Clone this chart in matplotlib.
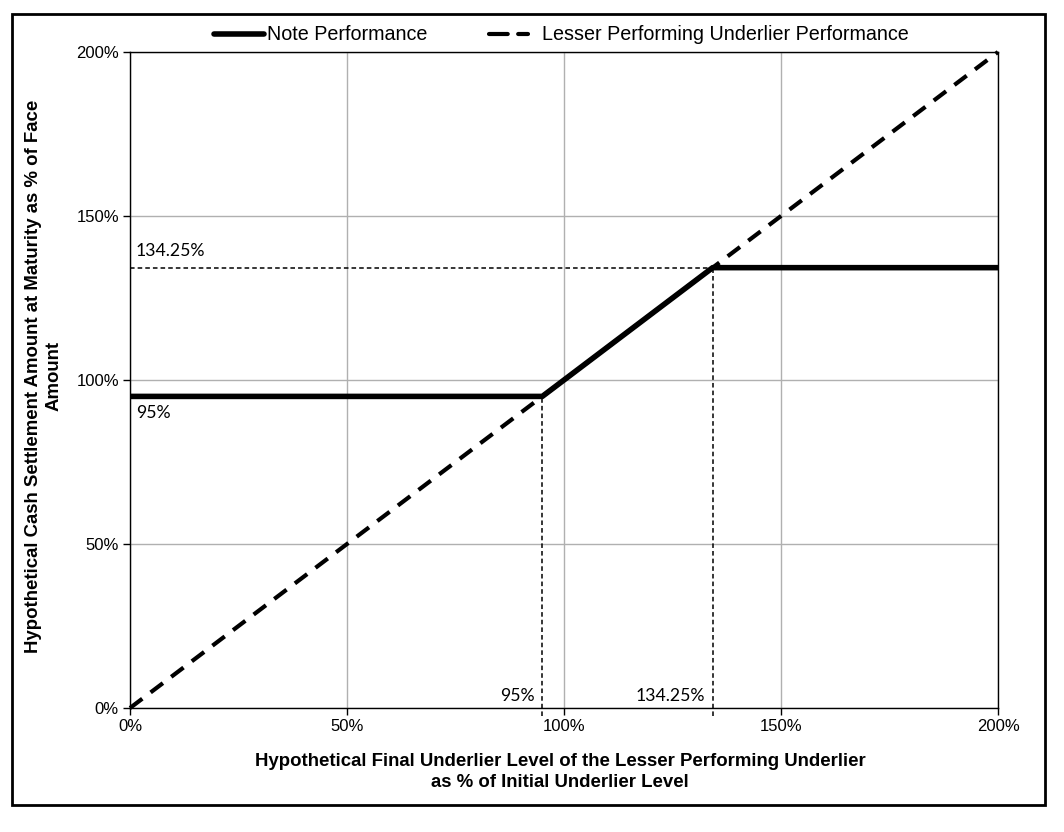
import matplotlib
matplotlib.use("Agg")
import matplotlib.pyplot as plt
from matplotlib.patches import Rectangle
from matplotlib.lines import Line2D
from matplotlib.ticker import FuncFormatter

# Data
note_x = [0, 95, 134.25, 200]
note_y = [95, 95, 134.25, 134.25]
under_x = [0, 200]
under_y = [0, 200]
floor_level = 95
cap_level = 134.25
ticks = [0, 50, 100, 150, 200]
note_label = 'Note Performance'
under_label = 'Lesser Performing Underlier Performance'

plt.rcParams['font.family'] = ['Liberation Sans', 'DejaVu Sans']

W, H = 1064, 832
fig = plt.figure(figsize=(W/100, H/100), dpi=100)
ax = fig.add_axes([130/W, 1-708/H, (998-130)/W, (708-52)/H])

def fx(px):
    return px / W

def fy(py):
    return 1 - py / H

# Outer border
fig.patches.append(Rectangle((fx(12), fy(805)), (1045-12)/W, (805-14)/H,
                             transform=fig.transFigure, fill=False,
                             edgecolor='black', linewidth=2))

ax.set_xlim(0, 200)
ax.set_ylim(0, 200)
ax.set_xticks(ticks)
ax.set_yticks(ticks)
fmt = FuncFormatter(lambda v, p: f"{v:.0f}%")
ax.xaxis.set_major_formatter(fmt)
ax.yaxis.set_major_formatter(fmt)
ax.grid(True, color='#b0b0b0', linewidth=1)
ax.set_axisbelow(True)
ax.tick_params(direction='out', length=5, width=1, labelsize=12, pad=3, colors='black')
for s in ax.spines.values():
    s.set_linewidth(1)
    s.set_color('black')

# Reference lines
ax.plot([0, cap_level], [cap_level, cap_level], color='black', lw=1.1,
        dashes=(3, 2), zorder=3)
ax.plot([floor_level, floor_level], [-2.5, floor_level], color='black', lw=1.1,
        dashes=(3, 2), clip_on=False, zorder=3)
ax.plot([cap_level, cap_level], [-2.5, cap_level], color='black', lw=1.1,
        dashes=(3, 2), clip_on=False, zorder=3)

ax.plot(under_x, under_y, color='black', lw=3, dashes=(3.7, 2.5),
        zorder=4, clip_on=False)
ax.plot(note_x, note_y, color='black', lw=4, solid_capstyle='butt', zorder=5)

# Annotations
afont = dict(family=['Lato', 'DejaVu Sans'], fontsize=12.7, color='black')
ax.text(1.3, cap_level + 2.5, f"{cap_level:g}%", ha='left', va='bottom', **afont)
ax.text(1.3, floor_level - 2.5, f"{floor_level:g}%", ha='left', va='top', **afont)
ax.text(floor_level - 1.8, 1.3, f"{floor_level:g}%", ha='right', va='bottom', **afont)
ax.text(cap_level - 1.8, 1.3, f"{cap_level:g}%", ha='right', va='bottom', **afont)

# Axis titles
fig.text(fx(560), fy(772), "Hypothetical Final Underlier Level of the Lesser Performing Underlier\nas % of Initial Underlier Level",
         ha='center', va='center', fontsize=13.4, fontweight='bold', linespacing=1.25,
         multialignment='center')
fig.text(fx(44), fy(376), "Hypothetical Cash Settlement Amount at Maturity as % of Face\nAmount",
         ha='center', va='center', rotation=90, fontsize=13.4, fontweight='bold',
         linespacing=1.25, multialignment='center')

# Legend (manual)
fig.lines.append(Line2D([fx(214), fx(264)], [fy(34), fy(34)], transform=fig.transFigure,
                        color='black', lw=4, solid_capstyle='round'))
fig.text(fx(267), fy(34), note_label, ha='left', va='center', fontsize=14.2)
fig.lines.append(Line2D([fx(489), fx(528)], [fy(34), fy(34)], transform=fig.transFigure,
                        color='black', lw=3, dashes=(4.5, 2.5), dash_capstyle='round'))
fig.text(fx(542), fy(34), under_label, ha='left', va='center', fontsize=14.2)

fig.savefig("out.png", dpi=100)
